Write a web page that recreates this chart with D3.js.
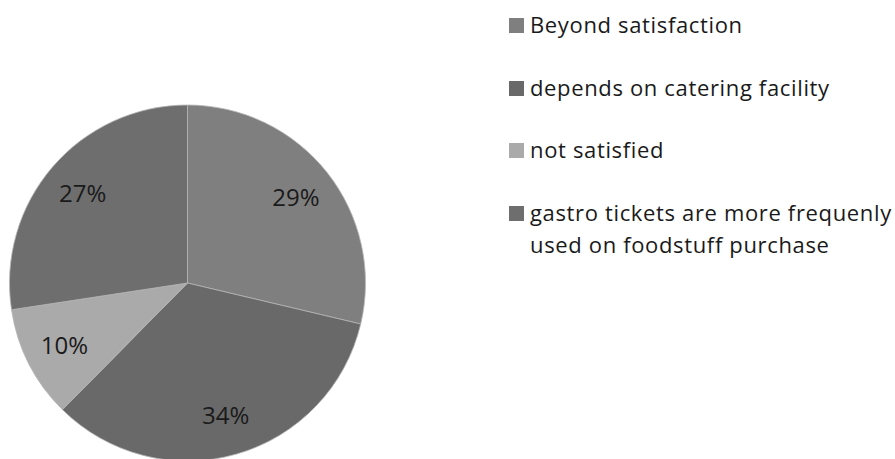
<!DOCTYPE html>
<html><head><meta charset="utf-8">
<script src="https://cdn.jsdelivr.net/npm/d3@7"></script>
<style>body{margin:0;background:#fff}svg{display:block}</style>
</head><body>
<svg id="c" width="895" height="459"></svg>
<script>
const categories = ["Beyond satisfaction","depends on catering facility","not satisfied","gastro tickets are more frequenly used on foodstuff purchase"];
const legendLines = [["Beyond satisfaction"],["depends on catering facility"],["not satisfied"],["gastro tickets are more frequenly","used on foodstuff purchase"]];
const values = [28.7,33.7,10.2,27.4];
const labels = ["29%","34%","10%","27%"];
const colors = ["#7f7f7f","#696969","#aaaaaa","#6e6e6e"];

const svg = d3.select("#c");
const cx = 187.5, cy = 283, r = 178;
const font = "'Open Sans', sans-serif";
const pie = d3.pie().sort(null).value(d=>d)(values);
const arc = d3.arc().innerRadius(0).outerRadius(r);
const lab = d3.arc().innerRadius(r*0.776).outerRadius(r*0.776);
const g = svg.append("g").attr("transform",`translate(${cx},${cy})`);
g.selectAll("path").data(pie).join("path")
  .attr("d",arc).attr("fill",(d,i)=>colors[i])
  .attr("stroke","#b5b5b5").attr("stroke-width",0.8);
g.selectAll("text").data(pie).join("text")
  .attr("transform",d=>`translate(${lab.centroid(d)})`)
  .attr("text-anchor","middle").attr("dy","0.36em")
  .attr("font-family",font).attr("font-size",24)
  .attr("fill","#1a1a1a").text((d,i)=>labels[i]);

const lg = svg.append("g").attr("font-family",font).attr("font-size",22)
  .attr("letter-spacing","0.65px").attr("fill","#1a1a1a");
const rowY = [33,96,158,221];
categories.forEach((c,i)=>{
  lg.append("rect").attr("x",509).attr("y",rowY[i]-15).attr("width",15).attr("height",15).attr("fill",colors[i]);
  legendLines[i].forEach((t,j)=>{
    lg.append("text").attr("x",530).attr("y",rowY[i]+j*32).text(t);
  });
});
</script>
</body></html>
